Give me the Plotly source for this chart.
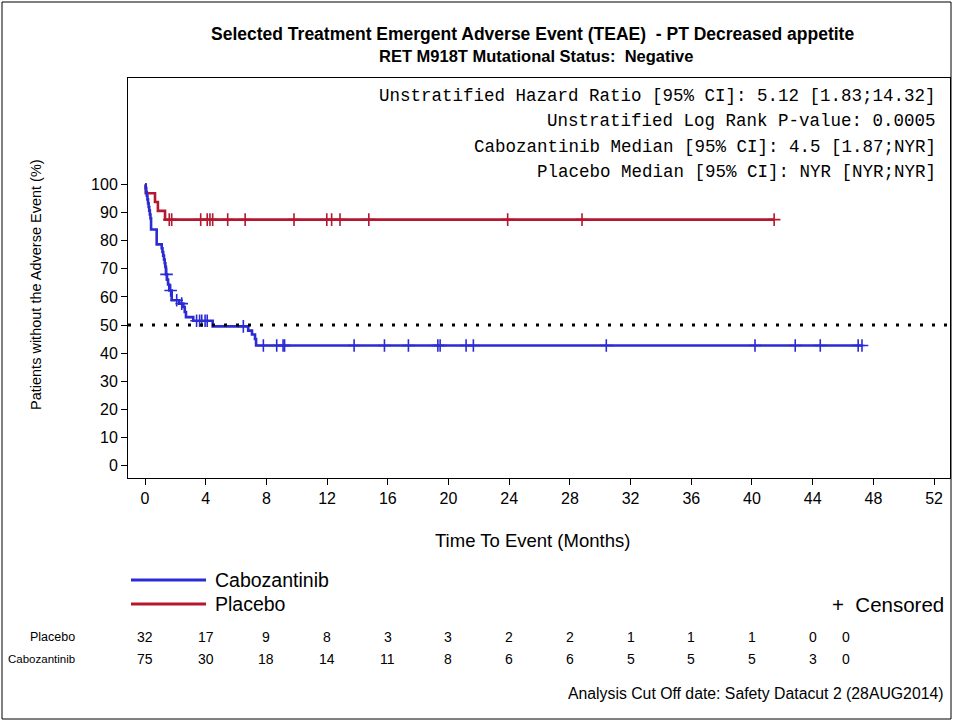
import plotly.graph_objects as go

# ---------------- data ----------------
cabo_step_times = [0, 0.04, 0.08, 0.12, 0.16, 0.2, 0.24, 0.28, 0.32, 0.36, 0.40, 0.77,
                   1.10, 1.15, 1.20, 1.25, 1.30, 1.34, 1.38, 1.45, 1.52, 1.60, 1.76,
                   2.26, 2.53, 2.62, 2.70, 3.18, 4.46, 6.80, 7.05, 7.25, 7.32]
cabo_step_surv = [100, 98.7, 97.3, 96.0, 94.7, 93.3, 92.0, 90.7, 89.3, 88.0, 84.0, 78.7,
                  77.3, 76.0, 74.7, 73.3, 72.0, 70.7, 68.0, 66.2, 64.4, 62.3, 58.8,
                  57.6, 56.4, 54.6, 52.8, 51.5, 49.5, 48.0, 46.6, 45.0, 42.7]
cabo_end_time = 47.25
cabo_censor_times = [1.42, 1.69, 2.09, 2.42, 3.4, 3.6, 3.74, 3.96, 4.1, 6.48, 7.8, 8.68,
                     9.1, 9.2, 13.78, 15.78, 17.36, 19.3, 19.45, 21.16, 21.64, 30.4,
                     40.2, 42.85, 44.5, 47.0, 47.25]

placebo_step_times = [0, 0.05, 0.66, 0.85, 1.32]
placebo_step_surv = [100, 96.9, 93.75, 90.6, 87.5]
placebo_end_time = 41.46
placebo_censor_times = [1.6, 1.76, 3.67, 4.1, 4.28, 4.46, 5.45, 6.6, 9.82, 11.98, 12.3,
                        12.85, 14.75, 23.9, 28.8, 41.46]

risk_times = [0, 4, 8, 12, 16, 20, 24, 28, 32, 36, 40, 44, 46.2]
risk_placebo = [32, 17, 9, 8, 3, 3, 2, 2, 1, 1, 1, 0, 0]
risk_cabo = [75, 30, 18, 14, 11, 8, 6, 6, 5, 5, 5, 3, 0]

x_ticks = list(range(0, 53, 4))
y_ticks = list(range(0, 101, 10))

title_text = "Selected Treatment Emergent Adverse Event (TEAE)  - PT Decreased appetite"
subtitle_text = "RET M918T Mutational Status:  Negative"
stats_lines = [
    "Unstratified Hazard Ratio [95% CI]: 5.12 [1.83;14.32]",
    "Unstratified Log Rank P-value: 0.0005",
    "Cabozantinib Median [95% CI]: 4.5 [1.87;NYR]",
    "Placebo Median [95% CI]: NYR [NYR;NYR]",
]
footnote = "Analysis Cut Off date: Safety Datacut 2 (28AUG2014)"

# ---------------- layout helpers ----------------
W, H = 954, 722
L, R, T, B = 128, 950, 78, 478
BLUE = "#2b2bd4"
RED = "#b3182f"
SANS = "Liberation Sans, Arial, sans-serif"
MONO = "Liberation Mono, Courier New, monospace"


def px(x):
    return (x - L) / (R - L)


def py(y):
    return (B - y) / (B - T)


def surv_at(times, survs, t):
    v = survs[0]
    for ti, si in zip(times, survs):
        if ti <= t:
            v = si
    return v


fig = go.Figure()

for times, survs, end, cens, col, name in [
    (placebo_step_times, placebo_step_surv, placebo_end_time, placebo_censor_times, RED, "Placebo"),
    (cabo_step_times, cabo_step_surv, cabo_end_time, cabo_censor_times, BLUE, "Cabozantinib"),
]:
    xs = list(times) + [end]
    ys = list(survs) + [survs[-1]]
    fig.add_trace(go.Scatter(x=xs, y=ys, mode="lines", line=dict(color=col, width=2.6, shape="hv"),
                             name=name, showlegend=False, hoverinfo="skip"))
    fig.add_trace(go.Scatter(x=cens, y=[surv_at(times, survs, t) for t in cens], mode="markers",
                             marker=dict(symbol="cross-thin", size=9, line=dict(color=col, width=1.6)),
                             showlegend=False, hoverinfo="skip"))

shapes = [
    # outer frame
    dict(type="rect", xref="paper", yref="paper", x0=px(2), x1=px(951), y0=py(719), y1=py(2),
         line=dict(color="black", width=1)),
    # 50% reference line
    dict(type="line", xref="paper", yref="y", x0=0, x1=1, y0=50, y1=50,
         line=dict(color="black", width=3, dash="3px,9px")),
    # legend lines
    dict(type="line", xref="paper", yref="paper", x0=px(131), x1=px(206), y0=py(580), y1=py(580),
         line=dict(color=BLUE, width=3)),
    dict(type="line", xref="paper", yref="paper", x0=px(131), x1=px(206), y0=py(604), y1=py(604),
         line=dict(color=RED, width=3)),
]

ann = []


def txt(text, x, y, size, anchor="center", bold=False, font=SANS, angle=0):
    ann.append(dict(text=("<b>%s</b>" % text) if bold else text, xref="paper", yref="paper",
                    x=px(x), y=py(y), xanchor=anchor, yanchor="middle", showarrow=False,
                    textangle=angle, font=dict(family=font, size=size, color="black")))


txt(title_text, 532, 34, 17.5, bold=True)
txt(subtitle_text, 536, 56, 16.5, bold=True)
for i, line in enumerate(stats_lines):
    txt(line, 938, 96 + i * 25.3, 17.5, anchor="right", font=MONO)
txt("Time To Event (Months)", 532, 540, 18.5)
txt("Patients without the Adverse Event (%)", 36, 285, 14.5, angle=-90)
txt("Cabozantinib", 213, 580, 19.5, anchor="left")
txt("Placebo", 213, 604, 19.5, anchor="left")
txt("+  Censored", 946, 604, 20.5, anchor="right")
txt("Placebo", 77, 637, 12.5, anchor="right")
txt("Cabozantinib", 77, 659, 11.5, anchor="right")
txt(footnote, 946, 693, 15.8, anchor="right")

for t, a, b in zip(risk_times, risk_placebo, risk_cabo):
    for val, y in [(a, 637), (b, 659)]:
        ann.append(dict(text=str(val), xref="x", yref="paper", x=t, y=py(y), xanchor="center",
                        yanchor="middle", showarrow=False,
                        font=dict(family=SANS, size=14, color="black")))

axis_common = dict(showline=True, mirror=True, linecolor="black", linewidth=1, showgrid=False,
                   zeroline=False, ticks="outside", ticklen=6, tickcolor="black",
                   tickfont=dict(family=SANS, size=16, color="black"))

fig.update_layout(
    width=W, height=H,
    margin=dict(l=L, r=W - R, t=T, b=H - B, pad=0),
    paper_bgcolor="white", plot_bgcolor="white",
    xaxis=dict(range=[-1.12, 53.05], tickvals=x_ticks, **axis_common),
    yaxis=dict(range=[-4.45, 137.9], tickvals=y_ticks, **axis_common),
    shapes=shapes, annotations=ann, showlegend=False,
)

fig.write_html("out.html", config={"displayModeBar": False},
               post_script="document.body.style.margin='0';document.body.style.overflow='hidden';")
